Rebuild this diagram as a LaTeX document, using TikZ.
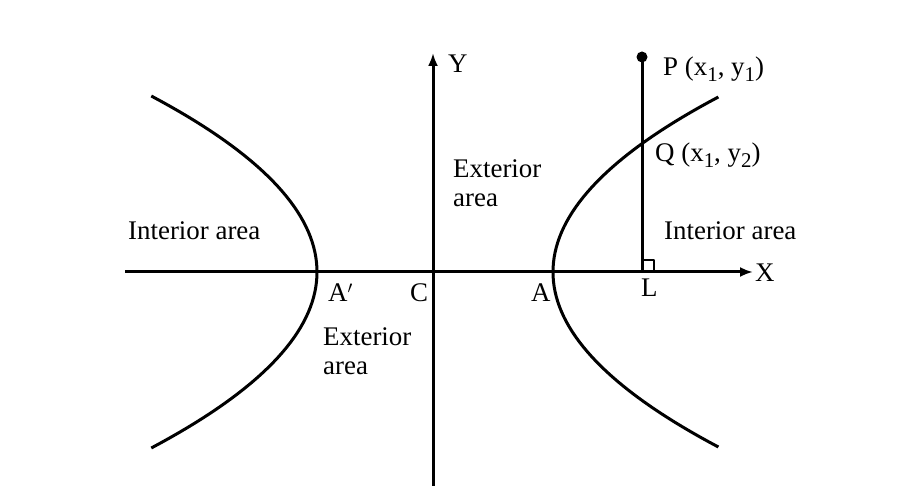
\documentclass[tikz,border=0pt]{standalone}
\usepackage{fontspec}
\setmainfont{Liberation Serif}
\usetikzlibrary{arrows.meta}
\newcommand{\lowsub}[1]{\raisebox{-6bp}{\fontsize{21}{21}\selectfont #1}}
\begin{document}
\begin{tikzpicture}[x=1bp,y=1bp,>={Latex[length=13bp,width=10bp]},line join=round,
  axis/.style={line width=3bp},
  branch/.style={line width=3bp},
  lbl/.style={inner sep=0pt,anchor=base west,font=\fontsize{27}{30}\selectfont},
  area/.style={inner sep=0pt,anchor=north west,align=left,font=\fontsize{27}{30}\selectfont}]
%%
\useasboundingbox (0bp,0bp) rectangle (909bp,486bp);
\coordinate (xl) at (125bp,214bp);
  \coordinate (xr) at (753bp,214bp);
  \coordinate (yb) at (433bp,0bp);
  \coordinate (yt) at (433bp,433bp);
  \coordinate (C) at (433bp,214bp);
  \coordinate (A) at (553bp,214bp);
  \coordinate (Ap) at (317bp,214bp);
  \coordinate (P) at (642bp,429bp);
  \coordinate (Q) at (642bp,341bp);
  \coordinate (L) at (642bp,214bp);
%
\draw [axis,->] (xl) -- (xr);
  \draw [axis,->] (yb) -- (yt);
  \draw [branch] plot [domain=-175:175,samples=71,variable=\t] ({553+0.54*(\t/10)*(\t/10)},{214+\t});
  \draw [branch] plot [domain=-176:176,samples=71,variable=\t] ({317-0.535*(\t/10)*(\t/10)},{214+\t});
  \draw [axis] (P) -- (L);
  \fill (P) circle (5.5bp);
  \draw [line width=2bp] ([xshift=12bp]L) -- ++(0bp,12bp) -- ++(-12bp,0bp);
%
\node (Ylbl) at (448bp,413bp) [lbl] {Y};
  \node (Xlbl) at (755bp,204bp) [lbl] {X};
  \node (Clbl) at (410bp,184bp) [lbl] {C};
  \node (Albl) at (531bp,184bp) [lbl] {A};
  \node (Aplbl) at (328bp,184bp) [lbl] {A$'$};
  \node (Llbl) at (641bp,189bp) [lbl] {L};
  \node (Plbl) at (663bp,410bp) [lbl] {P (x\lowsub{1}, y\lowsub{1})};
  \node (Qlbl) at (655bp,324bp) [lbl] {Q (x\lowsub{1}, y\lowsub{2})};
  \node (intl) at (128bp,246bp) [lbl] {Interior area};
  \node (intr) at (664bp,246bp) [lbl] {Interior area};
  \node (extu) at (453bp,327bp) [area] {Exterior\\area};
  \node (extd) at (323bp,159bp) [area] {Exterior\\area};
%
\end{tikzpicture}
\end{document}
